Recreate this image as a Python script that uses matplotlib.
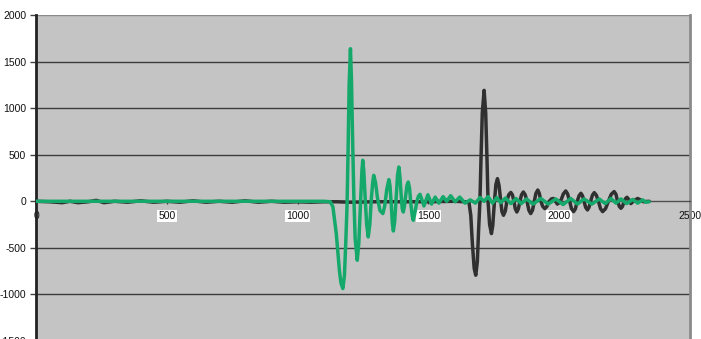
import matplotlib
matplotlib.use("Agg")
import matplotlib.pyplot as plt

# ---- data ----
green_x = [0, 100, 200, 300, 400, 500, 600, 700, 800, 900, 1000, 1100, 1125,
           1135, 1148, 1160, 1166, 1173, 1179, 1184, 1189, 1193, 1197, 1202, 1206,
           1210, 1215, 1220, 1228, 1234, 1240, 1246, 1249, 1253, 1258, 1264, 1270,
           1276, 1282, 1287, 1291, 1298, 1305, 1315, 1326, 1333, 1341, 1349, 1353,
           1358, 1362, 1366, 1371, 1377, 1382, 1387, 1391, 1396, 1400, 1404, 1408,
           1414, 1418, 1423, 1428, 1433, 1438, 1442, 1448, 1456, 1462, 1468, 1476,
           1483, 1498, 1512, 1526, 1540, 1556, 1570, 1585, 1602, 1620, 1640, 1660,
           1680, 1697, 1713, 1728, 1745, 1761, 1776, 1795, 1815, 1835, 1855, 1875,
           1900, 1930, 1958, 1987, 2015, 2044, 2070, 2095, 2125, 2153, 2176, 2198,
           2217, 2236, 2258, 2281, 2300, 2319, 2332, 2344]
green_y = [0, 0, 0, 0, 0, 0, 0, 0, 0, 0, 0, 0, -5,
           -60, -350, -750, -880, -937, -800, -450, -50, 550, 1250, 1638, 1300,
           700, 50, -400, -633, -450, -50, 330, 440, 330, 50, -250, -383,
           -250, 30, 200, 279, 200, 40, -100, -132, -50, 130, 233, 170,
           -30, -230, -319, -220, 50, 280, 368, 270, 60, -80, -115, -60,
           80, 170, 207, 140, -30, -150, -204, -130, 0, 55, 75, 10,
           -50, 70, -30, 45, -20, 50, 0, 60, -5, 45, -20, 15,
           -20, 40, 0, 50, -20, 40, -15, 35, -25, 30, -25, 25,
           -30, 30, -30, 25, -35, 30, -30, 25, -30, 25, -25, 30,
           -20, 25, -25, 20, -20, 15, -10, -5]

black_x = [0, 50, 100, 130, 160, 200, 230, 260, 300, 350, 400, 450, 500, 550,
           600, 650, 700, 750, 800, 850, 900, 950, 1000, 1050, 1100, 1150, 1200,
           1300, 1400, 1500, 1600, 1640, 1655, 1662, 1668, 1675, 1681, 1687, 1692,
           1697, 1701, 1706, 1713, 1719, 1724, 1728, 1734, 1741, 1746, 1752, 1758,
           1764, 1770, 1776, 1781, 1787, 1794, 1800, 1807, 1815, 1821, 1827, 1832,
           1838, 1844, 1850, 1856, 1863, 1870, 1877, 1884, 1891, 1898, 1905, 1911,
           1918, 1924, 1930, 1937, 1945, 1953, 1962, 1970, 1978, 1986, 1993, 2000,
           2008, 2016, 2025, 2032, 2040, 2047, 2055, 2062, 2069, 2076, 2083, 2089,
           2095, 2101, 2108, 2114, 2120, 2127, 2134, 2142, 2150, 2158, 2166, 2177,
           2188, 2199, 2210, 2217, 2223, 2230, 2236, 2242, 2248, 2254, 2259, 2266,
           2274, 2287, 2300, 2311, 2322, 2344]
black_y = [0, -5, -15, 0, -15, -5, 10, -15, 0, -10, 5, -10, 0, -10,
           5, -10, 0, -10, 5, -10, 0, -10, -5, -10, -5, -5, -10,
           -5, -5, -5, 0, -5, -10, -150, -450, -720, -794, -650, -300,
           0, 450, 950, 1191, 950, 450, 0, -250, -347, -260, -20, 180,
           243, 170, 20, -110, -150, -105, 0, 70, 95, 70, 0, -80,
           -115, -80, 0, 70, 100, 70, 0, -95, -132, -95, 0, 85,
           121, 85, 0, -55, -79, -55, 0, 25, 30, 0, -30, -10,
           20, 80, 111, 80, 0, -80, -111, -80, 0, 60, 86, 60,
           0, -65, -93, -65, 0, 65, 93, 65, 0, -80, -111, -80,
           0, 75, 104, 75, 0, -55, -75, -55, 0, 30, 43, 20,
           -25, 10, 30, 15, -5, 0]

x_ticks = [0, 500, 1000, 1500, 2000, 2500]
y_ticks = [-1500, -1000, -500, 0, 500, 1000, 1500, 2000]

# ---- figure ----
plt.rcParams['font.family'] = ['Liberation Sans', 'DejaVu Sans']
W, H = 701, 339
fig = plt.figure(figsize=(W / 100, H / 100), dpi=100)
fig.patch.set_facecolor('white')
left, right, top, bottom = 36, 690, 15, 341
ax = fig.add_axes([left / W, (H - bottom) / H, (right - left) / W, (bottom - top) / H])
ax.set_facecolor('#c4c4c4')

ax.set_xlim(0, 2500)
ax.set_ylim(-1500, 2000)

# grid
for yv in y_ticks:
    if yv == 0:
        continue
    ax.axhline(yv, color='#3c3c3c' if yv != 2000 else '#8a8a8a', lw=1.0, zorder=1)

# horizontal axis at 0
ax.spines['bottom'].set_position(('data', 0))
ax.spines['bottom'].set_color('#505050')
ax.spines['bottom'].set_linewidth(1.0)
ax.spines['top'].set_visible(False)
ax.spines['right'].set_color('#8a8a8a')
ax.spines['right'].set_linewidth(2.0)
ax.spines['left'].set_color('#222222')
ax.spines['left'].set_linewidth(2.0)

ax.plot(black_x, black_y, color='#303030', lw=2.5, zorder=3,
        solid_joinstyle='round', solid_capstyle='round')
ax.plot(green_x, green_y, color='#14a96b', lw=2.5, zorder=4,
        solid_joinstyle='round', solid_capstyle='round')

ax.set_xticks(x_ticks)
ax.set_xticklabels([str(v) for v in x_ticks])
ax.set_yticks(y_ticks)
ax.set_yticklabels([str(v) for v in y_ticks])
ax.tick_params(axis='x', direction='out', length=2.5, width=1, color='#404040',
               labelsize=7.5, pad=4.5, labelcolor='#111111')
ax.tick_params(axis='y', direction='out', length=4, width=1, color='#404040',
               labelsize=7.5, pad=3, labelcolor='#111111')
for lbl, v in zip(ax.get_xticklabels(), x_ticks):
    if 0 < v < 2500:
        lbl.set_bbox(dict(facecolor='white', edgecolor='none', pad=0.8))
    lbl.set_zorder(5)

fig.savefig('out.png', dpi=100, facecolor='white')
